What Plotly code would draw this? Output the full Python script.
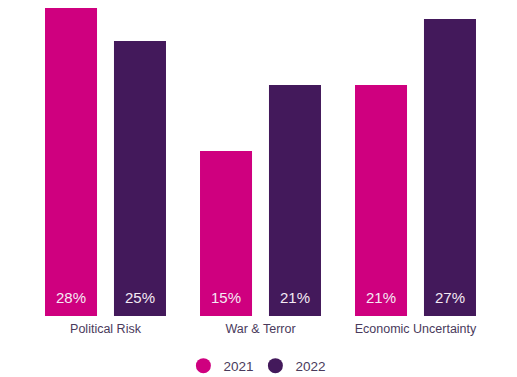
import plotly.graph_objects as go

categories = ["Political Risk", "War & Terror", "Economic Uncertainty"]
values_2021 = [28, 15, 21]
values_2022 = [25, 21, 27]
series_names = ["2021", "2022"]
colors = ["#CF007F", "#43195B"]
label_shift = [-34.5, 34.5]

FONT = "Liberation Sans, Arial, sans-serif"

fig = go.Figure()
annotations = []
for name, vals, col, dx in zip(series_names, [values_2021, values_2022], colors, label_shift):
    fig.add_trace(go.Bar(
        x=categories, y=vals, name=name, marker=dict(color=col, line=dict(width=0)),
        showlegend=False, hoverinfo="x+y",
    ))
    fig.add_trace(go.Scatter(
        x=[None], y=[None], mode="markers", name=name,
        marker=dict(color=col, size=15, symbol="circle"),
    ))
    for c, v in zip(categories, vals):
        annotations.append(dict(
            x=c, y=0, xref="x", yref="y", xshift=dx, yshift=19,
            text=f"{v}%", showarrow=False, yanchor="middle", xanchor="center",
            font=dict(color="#F4EAF4", size=15, family=FONT),
        ))

fig.update_layout(
    width=517, height=377,
    margin=dict(l=28, r=24, t=8, b=61, autoexpand=False),
    paper_bgcolor="white", plot_bgcolor="white",
    barmode="group", bargap=0.11, bargroupgap=0.246,
    font=dict(family=FONT, color="#4A3A5C", size=12),
    xaxis=dict(showgrid=False, showline=False, zeroline=False, ticks="",
               tickfont=dict(size=12.5, color="#4A3A5C"), ticklabelstandoff=3),
    yaxis=dict(range=[0, 28], visible=False, showgrid=False, zeroline=False),
    legend=dict(orientation="h", x=0.489, xanchor="center", y=-0.162, yanchor="middle",
                font=dict(size=13.5, color="#4A3A5C"), itemsizing="trace",
                entrywidth=27, entrywidthmode="pixels"),
    annotations=annotations,
)
fig.write_html("out.html", post_script="document.body.style.margin='0';",
               config={"displayModeBar": False})
